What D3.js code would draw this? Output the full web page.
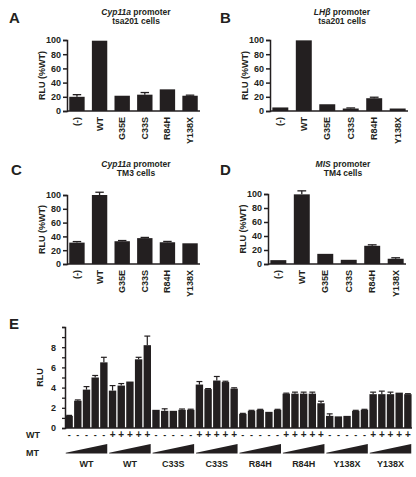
<!DOCTYPE html>
<html><head><meta charset="utf-8">
<script src="https://cdn.jsdelivr.net/npm/d3@7"></script>
<style>
body{margin:0;background:#fff;}
svg text{font-family:"Liberation Sans",Arial,sans-serif;font-weight:bold;fill:#231f20;}
</style></head>
<body>
<svg id="c" width="416" height="477"></svg>
<script>
// ---------- data ----------
const categories = ["(-)", "WT", "G35E", "C33S", "R84H", "Y138X"];
const yTicksAD = [0, 20, 40, 60, 80, 100];

const valuesA = [20, 99, 21.5, 23, 30.5, 21.5];
const errorsA = [3, 0, 0, 3, 0, 0.8];
const valuesB = [5, 99.5, 9.5, 3.5, 18, 3.5];
const errorsB = [0, 0, 0, 0.8, 1.4, 0];
const valuesC = [31, 100, 33, 37.5, 31.5, 30];
const errorsC = [1.5, 4, 1, 1, 1.2, 0];
const valuesD = [5.5, 99.5, 14.5, 6, 26, 7.5];
const errorsD = [0, 5, 0, 0, 1.4, 1.4];

const groupLabelsE = ["WT", "WT", "C33S", "C33S", "R84H", "R84H", "Y138X", "Y138X"];
const wtSignsE = ["-", "+", "-", "+", "-", "+", "-", "+"];
const valuesE = [
  1.2, 2.7, 3.8, 5.0, 6.5,
  3.7, 4.2, 4.6, 6.8, 8.2,
  1.8, 1.7, 1.7, 1.8, 1.8,
  4.3, 3.85, 4.7, 4.55, 3.9,
  1.4, 1.7, 1.8, 1.6, 1.8,
  3.4, 3.4, 3.4, 3.4, 2.45,
  1.2, 1.15, 1.2, 1.7, 1.8,
  3.35, 3.35, 3.35, 3.5, 3.35
];
const errorsE = [
  0.05, 0.08, 0.3, 0.2, 0.5,
  0.5, 0.2, 0, 0.2, 0.9,
  0, 0.2, 0, 0.08, 0.06,
  0.3, 0.05, 0.4, 0.08, 0.08,
  0.05, 0.05, 0.05, 0, 0.05,
  0.05, 0.15, 0.15, 0.15, 0.2,
  0.2, 0, 0, 0.05, 0.05,
  0.2, 0.3, 0.2, 0, 0.05
];
const yTicksE = [0,1,2,3,4,5,6,7,8,9,10];

// ---------- drawing ----------
const ink = "#231f20";
const svg = d3.select("#c");

function panel(o) {
  const g = svg.append("g");
  const x = d3.scaleBand().domain(categories).range([o.x0, o.x1]).paddingInner(0.32).paddingOuter(0.1);
  const y = d3.scaleLinear().domain([0, 100]).range([o.y0, o.y1]);
  g.append("text").attr("x", o.lx).attr("y", o.ly).attr("font-size", 15).text(o.letter);
  const t = g.append("text").attr("x", o.tc).attr("y", o.ty).attr("text-anchor", "middle").attr("font-size", 8.5);
  t.append("tspan").attr("font-style", "italic").text(o.gene);
  t.append("tspan").text(" promoter");
  g.append("text").attr("x", o.tc).attr("y", o.ty + 9).attr("text-anchor", "middle").attr("font-size", 8.5).text(o.cells);
  g.selectAll("rect.b").data(o.values).enter().append("rect")
    .attr("x", (d, i) => x(categories[i])).attr("width", x.bandwidth())
    .attr("y", d => y(d)).attr("height", d => y(0) - y(d)).attr("fill", ink);
  const cw = x.bandwidth() * 0.55;
  o.values.forEach((v, i) => {
    const e = o.errors[i];
    if (e <= 0) return;
    const cx = x(categories[i]) + x.bandwidth() / 2;
    g.append("line").attr("x1", cx).attr("x2", cx).attr("y1", y(v)).attr("y2", y(v + e)).attr("stroke", ink).attr("stroke-width", 1.3);
    g.append("line").attr("x1", cx - cw / 2).attr("x2", cx + cw / 2).attr("y1", y(v + e)).attr("y2", y(v + e)).attr("stroke", ink).attr("stroke-width", 1.3);
  });
  const ya = g.append("g").attr("transform", `translate(${o.x0},0)`)
    .call(d3.axisLeft(y).tickValues(yTicksAD).tickSize(4).tickPadding(2));
  ya.select(".domain").attr("stroke", ink).attr("stroke-width", 1.5);
  ya.selectAll(".tick line").attr("stroke", ink).attr("stroke-width", 1.5);
  ya.selectAll(".tick text").attr("font-size", 9).attr("font-family", null).style("fill", ink);
  g.append("line").attr("x1", o.x0).attr("x2", o.x1).attr("y1", o.y0).attr("y2", o.y0).attr("stroke", ink).attr("stroke-width", 1.5);
  categories.forEach(c => {
    const cx = x(c) + x.bandwidth() / 2;
    g.append("text").attr("transform", `translate(${cx + 3},${o.y0 + 6}) rotate(-90)`)
      .attr("text-anchor", "end").attr("font-size", 9).text(c);
  });
  g.append("text").attr("transform", `translate(${o.x0 - 22},${(o.y0 + o.y1) / 2}) rotate(-90)`)
    .attr("text-anchor", "middle").attr("font-size", 9).text("RLU (%WT)");
}

panel({letter: "A", lx: 9, ly: 23, x0: 67, x1: 200, y0: 111, y1: 40, tc: 136, ty: 15,
  gene: "Cyp11a", cells: "tsa201 cells", values: valuesA, errors: errorsA});
panel({letter: "B", lx: 220, ly: 23, x0: 270, x1: 408, y0: 111, y1: 40, tc: 342, ty: 15,
  gene: "LHβ", cells: "tsa201 cells", values: valuesB, errors: errorsB});
panel({letter: "C", lx: 11, ly: 175, x0: 67, x1: 200, y0: 264, y1: 195, tc: 136, ty: 167,
  gene: "Cyp11a", cells: "TM3 cells", values: valuesC, errors: errorsC});
panel({letter: "D", lx: 220, ly: 175, x0: 268, x1: 406, y0: 264, y1: 194, tc: 343, ty: 167,
  gene: "MIS", cells: "TM4 cells", values: valuesD, errors: errorsD});

// ---------- panel E ----------
(function () {
  const g = svg.append("g");
  const x0 = 65, x1 = 412, y0 = 428, y1 = 327;
  const idx = d3.range(valuesE.length);
  const x = d3.scaleBand().domain(idx).range([x0, x1]).paddingInner(0.15).paddingOuter(0.05);
  const y = d3.scaleLinear().domain([0, 10]).range([y0, y1]);
  g.append("text").attr("x", 9).attr("y", 329).attr("font-size", 15).text("E");
  g.selectAll("rect").data(valuesE).enter().append("rect")
    .attr("x", (d, i) => x(i)).attr("width", x.bandwidth())
    .attr("y", d => y(d)).attr("height", d => y(0) - y(d)).attr("fill", ink);
  const cw = x.bandwidth() * 0.8;
  valuesE.forEach((v, i) => {
    const e = errorsE[i];
    if (e <= 0) return;
    const cx = x(i) + x.bandwidth() / 2;
    g.append("line").attr("x1", cx).attr("x2", cx).attr("y1", y(v)).attr("y2", y(v + e)).attr("stroke", ink).attr("stroke-width", 1.2);
    g.append("line").attr("x1", cx - cw / 2).attr("x2", cx + cw / 2).attr("y1", y(v + e)).attr("y2", y(v + e)).attr("stroke", ink).attr("stroke-width", 1.2);
  });
  const ya = g.append("g").attr("transform", `translate(${x0},0)`)
    .call(d3.axisLeft(y).tickValues(yTicksE).tickSize(3).tickPadding(6).tickFormat(d => (d % 2 === 0 && d < 10) ? d : ""));
  ya.select(".domain").attr("stroke", ink).attr("stroke-width", 1.5);
  ya.selectAll(".tick line").attr("stroke", ink).attr("stroke-width", 1.3);
  ya.selectAll(".tick text").attr("font-size", 9).attr("font-family", null).style("fill", ink);
  g.append("line").attr("x1", x0).attr("x2", x1).attr("y1", y0).attr("y2", y0).attr("stroke", ink).attr("stroke-width", 1.5);
  g.append("text").attr("transform", `translate(${x0 - 22},${(y0 + y1) / 2}) rotate(-90)`)
    .attr("text-anchor", "middle").attr("font-size", 9).text("RLU");
  g.append("text").attr("x", 26).attr("y", 438).attr("font-size", 9).text("WT");
  g.append("text").attr("x", 26).attr("y", 456).attr("font-size", 9).text("MT");
  idx.forEach(i => {
    const grp = Math.floor(i / 5);
    const cx = x(i) + x.bandwidth() / 2;
    g.append("text").attr("x", cx).attr("y", 438).attr("text-anchor", "middle")
      .attr("font-size", wtSignsE[grp] === "+" ? 10 : 9).text(wtSignsE[grp]);
  });
  groupLabelsE.forEach((lab, k) => {
    const l = x(k * 5) + 0.3, r = x(k * 5 + 4) + x.bandwidth() - 0.3;
    g.append("path").attr("d", `M${l},453.5 L${l},452.7 L${r},444 L${r},453.5 Z`).attr("fill", ink);
    g.append("text").attr("x", (l + r) / 2).attr("y", 467).attr("text-anchor", "middle").attr("font-size", 9).text(lab);
  });
})();
</script>
</body></html>
